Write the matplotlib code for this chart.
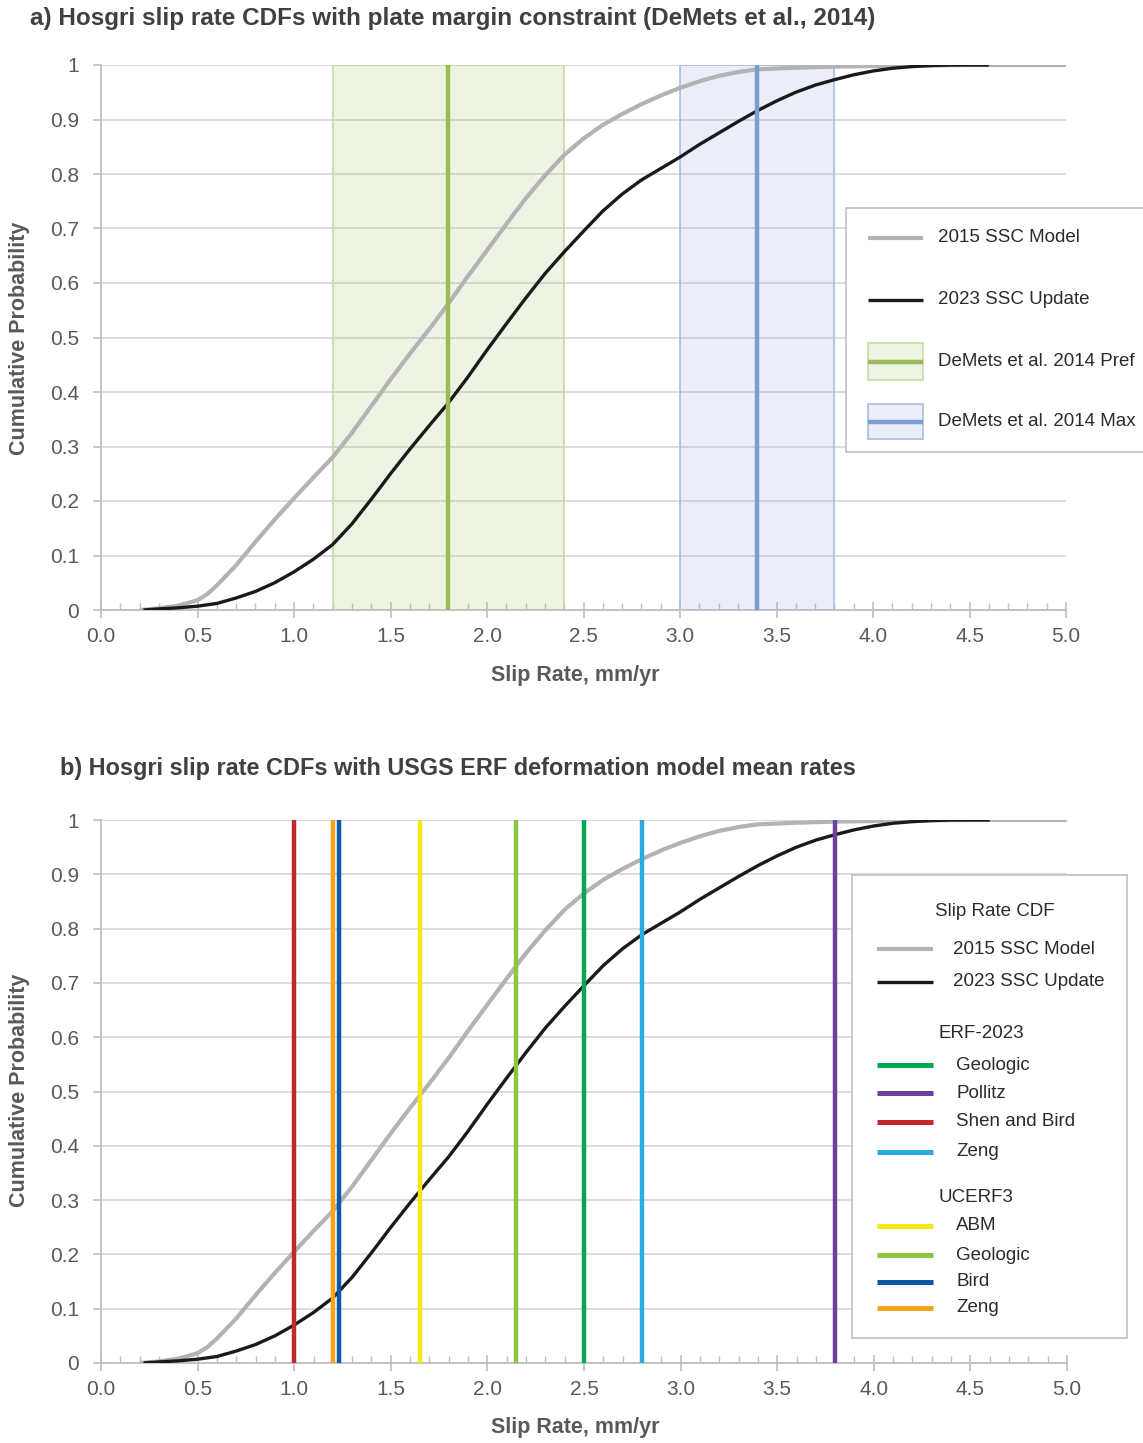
import matplotlib
matplotlib.use("Agg")
import matplotlib.pyplot as plt
from matplotlib.patches import Rectangle
from matplotlib.ticker import FuncFormatter
import numpy as np

plt.rcParams['font.family'] = ['Liberation Sans', 'DejaVu Sans']

W, H = 1143, 1443

# ---- Slip rate CDFs -------------------------------------------------------
ssc2015_rate = [0.2, 0.3, 0.4, 0.5, 0.55, 0.6, 0.7, 0.8, 0.9, 1.0, 1.1, 1.2, 1.3,
                1.4, 1.5, 1.6, 1.7, 1.8, 1.9, 2.0, 2.1, 2.2, 2.3, 2.4, 2.5, 2.6,
                2.7, 2.8, 2.9, 3.0, 3.1, 3.2, 3.3, 3.4, 3.6, 3.8, 4.0, 4.5, 5.0]
ssc2015_prob = [0.0, 0.003, 0.008, 0.018, 0.029, 0.045, 0.082, 0.125, 0.166, 0.205,
                0.243, 0.28, 0.325, 0.374, 0.423, 0.47, 0.515, 0.562, 0.612, 0.66,
                0.708, 0.755, 0.797, 0.835, 0.865, 0.89, 0.91, 0.928, 0.944, 0.958,
                0.97, 0.98, 0.987, 0.992, 0.995, 0.997, 0.998, 1.0, 1.0]

ssc2023_rate = [0.22, 0.3, 0.4, 0.5, 0.6, 0.7, 0.8, 0.9, 1.0, 1.1, 1.2, 1.3, 1.4,
                1.5, 1.6, 1.7, 1.8, 1.9, 2.0, 2.1, 2.2, 2.3, 2.4, 2.5, 2.6, 2.7,
                2.8, 2.9, 3.0, 3.1, 3.2, 3.3, 3.4, 3.5, 3.6, 3.7, 3.8, 3.9, 4.0,
                4.1, 4.2, 4.3, 4.4, 4.6]
ssc2023_prob = [0.0, 0.002, 0.004, 0.007, 0.012, 0.022, 0.034, 0.05, 0.07, 0.093,
                0.12, 0.158, 0.203, 0.25, 0.295, 0.338, 0.38, 0.427, 0.477, 0.525,
                0.572, 0.617, 0.657, 0.695, 0.732, 0.763, 0.789, 0.81, 0.831, 0.854,
                0.875, 0.896, 0.916, 0.934, 0.95, 0.963, 0.973, 0.982, 0.989,
                0.994, 0.997, 0.999, 1.0, 1.0]

cdf_labels = ["2015 SSC Model", "2023 SSC Update"]
cdf_colors = ["#b3b3b3", "#1a1a1a"]
cdf_widths = [3.0, 2.4]

# ---- DeMets et al. (2014) plate-margin constraint -------------------------
demets_labels = ["DeMets et al. 2014 Pref", "DeMets et al. 2014 Max"]
demets_center = [1.8, 3.4]
demets_low = [1.2, 3.0]
demets_high = [2.4, 3.8]
demets_line = ["#9bbb59", "#7c9dd2"]
demets_fill = [(0.608, 0.733, 0.349, 0.16), (0.55, 0.60, 0.85, 0.17)]
demets_edge = ["#c5d9a3", "#a9bce3"]

# ---- USGS ERF deformation model mean rates --------------------------------
model_groups = ["ERF-2023", "UCERF3"]
model_group = ["ERF-2023", "ERF-2023", "ERF-2023", "ERF-2023",
               "UCERF3", "UCERF3", "UCERF3", "UCERF3"]
model_names = ["Geologic", "Pollitz", "Shen and Bird", "Zeng",
               "ABM", "Geologic", "Bird", "Zeng"]
model_rates = [2.5, 3.8, 1.0, 2.8, 1.65, 2.15, 1.23, 1.2]
model_colors = ["#00a651", "#6f3fa0", "#c1272d", "#29abe2",
                "#f5e616", "#8cc63f", "#0c58a8", "#f7a21b"]
# draw order (later ones on top)
model_draw_order = [2, 7, 6, 4, 5, 0, 3, 1]

TXT = "#595959"
GRID = "#d9d9d9"
AXC = "#bfbfbf"

fig = plt.figure(figsize=(W / 100, H / 100), dpi=100)


def axes_rect(left, top, right, bottom):
    return [left / W, 1 - bottom / H, (right - left) / W, (bottom - top) / H]


def style_axes(ax, xlabel_y, ylabel_y):
    ax.set_xlim(0, 5)
    ax.set_ylim(0, 1)
    ax.set_xticks(np.arange(0, 5.01, 0.5))
    ax.set_xticks(np.arange(0, 5.01, 0.1), minor=True)
    ax.set_yticks(np.arange(0, 1.001, 0.1))
    ax.xaxis.set_major_formatter(FuncFormatter(lambda v, p: f"{v:.1f}"))
    ax.yaxis.set_major_formatter(FuncFormatter(lambda v, p: f"{round(v, 1):g}"))
    ax.yaxis.grid(True, color=GRID, lw=1.3)
    ax.set_axisbelow(True)
    for s in ("top", "right"):
        ax.spines[s].set_visible(False)
    for s in ("left", "bottom"):
        ax.spines[s].set_color(AXC)
        ax.spines[s].set_linewidth(1.3)
    ax.tick_params(axis="x", which="major", direction="inout", length=12, width=1.2,
                   color=AXC, labelsize=15, labelcolor=TXT, pad=6)
    ax.tick_params(axis="x", which="minor", direction="in", length=5, width=1.0,
                   color=AXC)
    ax.tick_params(axis="y", which="major", direction="out", length=6, width=1.2,
                   color=AXC, labelsize=15, labelcolor=TXT, pad=10)
    ax.set_xlabel("Slip Rate, mm/yr", fontsize=15.5, fontweight="bold", color=TXT,
                  va="center")
    ax.set_ylabel("Cumulative Probability", fontsize=15.5, fontweight="bold",
                  color=TXT, va="center")
    bb = ax.get_position()
    ax_left, ax_w = bb.x0 * W, bb.width * W
    ax_bottom, ax_h = (1 - bb.y0) * H, bb.height * H
    ax.xaxis.set_label_coords((575 - ax_left) / ax_w, -(xlabel_y - ax_bottom) / ax_h)
    ax.yaxis.set_label_coords((20 - ax_left) / ax_w, (ax_bottom - ylabel_y) / ax_h)


def draw_cdfs(ax):
    ax.plot(ssc2015_rate, ssc2015_prob, color=cdf_colors[0], lw=cdf_widths[0],
            solid_capstyle="butt", solid_joinstyle="round", zorder=3)
    ax.plot(ssc2023_rate, ssc2023_prob, color=cdf_colors[1], lw=cdf_widths[1],
            solid_capstyle="butt", solid_joinstyle="round", zorder=3.1)


# ---- Panel a ---------------------------------------------------------------
ax_a = fig.add_axes(axes_rect(101, 65, 1066, 610))
style_axes(ax_a, 676, 338)
for lo, hi, c, fc, ec in zip(demets_low, demets_high, demets_center, demets_fill, demets_edge):
    ax_a.axvspan(lo, hi, ymin=0, ymax=1, facecolor=fc, edgecolor=ec, lw=1.2, zorder=1)
draw_cdfs(ax_a)
for c, col in zip(demets_center, demets_line):
    ax_a.vlines(c, 0, 1, color=col, lw=3.2, zorder=4)

# ---- Panel b ---------------------------------------------------------------
ax_b = fig.add_axes(axes_rect(101, 820, 1067, 1363))
style_axes(ax_b, 1428, 1090)
draw_cdfs(ax_b)
for i in model_draw_order:
    ax_b.vlines(model_rates[i], 0, 1, color=model_colors[i], lw=3.2, zorder=4)

# ---- Titles ----------------------------------------------------------------
fig.text(30 / W, 1 - 18 / H,
         "a) Hosgri slip rate CDFs with plate margin constraint (DeMets et al., 2014)",
         fontsize=17.5, fontweight="bold", color="#404040", va="center", ha="left")
fig.text(60 / W, 1 - 768 / H,
         "b) Hosgri slip rate CDFs with USGS ERF deformation model mean rates",
         fontsize=16.9, fontweight="bold", color="#404040", va="center", ha="left")

# ---- Legends (drawn on a pixel-space overlay) -----------------------------
ov = fig.add_axes([0, 0, 1, 1], zorder=10)
ov.set_xlim(0, W)
ov.set_ylim(H, 0)
ov.axis("off")
LEG_TXT = "#2b2b2b"
LFS = 13.5

# legend a
ov.add_patch(Rectangle((846, 208), 320, 244, facecolor="white", edgecolor=AXC,
                       lw=1.2, clip_on=False))
rows_a = [238, 300]
for y, lab, col, lw in zip(rows_a, cdf_labels, cdf_colors, cdf_widths):
    ov.plot([868, 923], [y, y], color=col, lw=lw, solid_capstyle="butt")
    ov.text(938, y, lab, fontsize=LFS, color=LEG_TXT, va="center", ha="left")
rows_a2 = [(343, 380), (404, 439)]
for (t, b), lab, lc, fc, ec in zip(rows_a2, demets_labels, demets_line, demets_fill, demets_edge):
    ov.add_patch(Rectangle((868, t), 55, b - t, facecolor=fc, edgecolor=ec, lw=1.2))
    m = (t + b) / 2
    ov.plot([868, 923], [m, m], color=lc, lw=3.2, solid_capstyle="butt")
    ov.text(938, m, lab, fontsize=LFS, color=LEG_TXT, va="center", ha="left")

# legend b
ov.add_patch(Rectangle((852, 875), 275, 463, facecolor="white", edgecolor=AXC, lw=1.2))
ov.text(935, 912, "Slip Rate CDF", fontsize=LFS, color=LEG_TXT, va="center", ha="left")
for y, lab, col, lw in zip([949, 982], cdf_labels, cdf_colors, cdf_widths):
    ov.plot([877, 933], [y, y], color=col, lw=lw, solid_capstyle="butt")
    ov.text(953, y, lab, fontsize=LFS, color=LEG_TXT, va="center", ha="left")
group_title_y = {"ERF-2023": 1033, "UCERF3": 1198}
entry_y = [1065, 1093, 1122, 1152, 1226, 1255, 1282, 1308]
for g in model_groups:
    ov.text(938, group_title_y[g], g, fontsize=LFS, color=LEG_TXT, va="center", ha="left")
for y, name, col in zip(entry_y, model_names, model_colors):
    ov.plot([877, 933], [y, y], color=col, lw=3.6, solid_capstyle="butt")
    ov.text(956, y, name, fontsize=LFS, color=LEG_TXT, va="center", ha="left")

fig.savefig("out.png", dpi=100, facecolor="white")
